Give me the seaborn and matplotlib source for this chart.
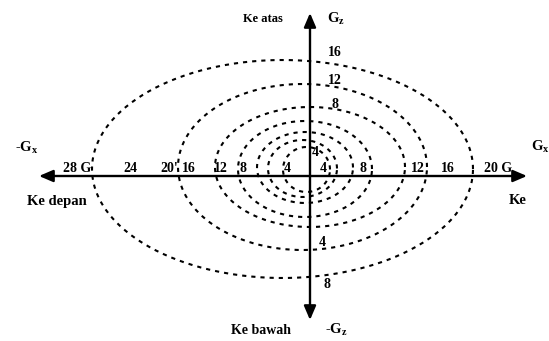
import numpy as np
import pandas as pd
import matplotlib
matplotlib.use("Agg")
import matplotlib.pyplot as plt
import seaborn as sns

# Friction-ellipse rings: extent of each ring along the four directions
ring_left = [-218, -132, -95, -72, -53, -42, -27]
ring_right = [163, 117, 95, 62, 43, 27, 20]
ring_top = [116, 92, 69, 55, 44, 36, 29]
ring_bottom = [-102, -74, -51, -41, -27, -21, -16]

# Labels along the longitudinal axis
left_labels = ["28 G", "24", "20'", "16", "12", "8", "4"]
left_label_x = [-233, -180, -141, -121, -89, -67, -23]
right_labels = ["4", "8", "12", "16", "20 G"]
right_label_x = [13, 53, 108, 138, 188]

# Labels along the vertical axis
up_labels = ["16", "12", "8", "4"]
up_label_pos = [(25, 123), (25, 96), (25, 72), (5, 24)]
down_labels = ["4", "8"]
down_label_pos = [(12, -66), (17, -109)]

# Build each ring as a closed curve through its four extents
t = np.linspace(0, 2 * np.pi, 400)
rows = []
for i, (l, r, tp, b) in enumerate(zip(ring_left, ring_right, ring_top, ring_bottom)):
    cx, cy = (l + r) / 2, (tp + b) / 2
    ax_, ay_ = (r - l) / 2, (tp - b) / 2
    for tt in t:
        rows.append({"ring": i, "x": cx + ax_ * np.cos(tt), "y": cy + ay_ * np.sin(tt)})
df = pd.DataFrame(rows)

sns.set_theme(style="white")
plt.rcParams["font.family"] = ["Liberation Serif", "DejaVu Serif"]

fig = plt.figure(figsize=(5.49, 3.41), dpi=100)
ax = fig.add_axes([0, 0, 1, 1])
ax.set_xlim(-310, 239)
ax.set_ylim(-165, 176)
ax.axis("off")

sns.lineplot(data=df, x="x", y="y", units="ring", estimator=None, sort=False,
             color="black", linewidth=1.5, linestyle=(0, (2.0, 2.4)), ax=ax,
             legend=False)

arrow = dict(arrowstyle="<|-|>,head_length=0.7,head_width=0.3", color="black",
             lw=1.7, mutation_scale=12, shrinkA=0, shrinkB=0)
ax.annotate("", xy=(-271, 0), xytext=(217, 0), arrowprops=arrow)
ax.annotate("", xy=(0, 163), xytext=(0, -144), arrowprops=arrow)

fs = 10
bold = dict(fontweight="bold", color="black")
for s, x in zip(left_labels, left_label_x):
    ax.text(x, 1, s, ha="center", va="bottom", fontsize=fs, **bold)
for s, x in zip(right_labels, right_label_x):
    ax.text(x, 1, s, ha="center", va="bottom", fontsize=fs, **bold)
for s, (x, y) in zip(up_labels, up_label_pos):
    ax.text(x, y, s, ha="center", va="center", fontsize=fs, **bold)
for s, (x, y) in zip(down_labels, down_label_pos):
    ax.text(x, y, s, ha="center", va="center", fontsize=fs, **bold)

ax.text(-27, 157, "Ke atas", ha="right", va="center", fontsize=9, **bold)
ax.text(17, 157, "G$_\\mathregular{z}$", ha="left", va="center", fontsize=10.5, **bold)
ax.text(-295, 28, "-G$_\\mathregular{x}$", ha="left", va="center", fontsize=10.5, **bold)
ax.text(221, 29, "G$_\\mathregular{x}$", ha="left", va="center", fontsize=10.5, **bold)
ax.text(-253, -25, "Ke depan", ha="center", va="center", fontsize=10.5, **bold)
ax.text(208, -24, "Ke", ha="center", va="center", fontsize=10.5, **bold)
ax.text(-19, -154, "Ke bawah", ha="right", va="center", fontsize=10, **bold)
ax.text(15, -154, "-G$_\\mathregular{z}$", ha="left", va="center", fontsize=10.5, **bold)

fig.savefig("out.png", dpi=100, facecolor="white")
